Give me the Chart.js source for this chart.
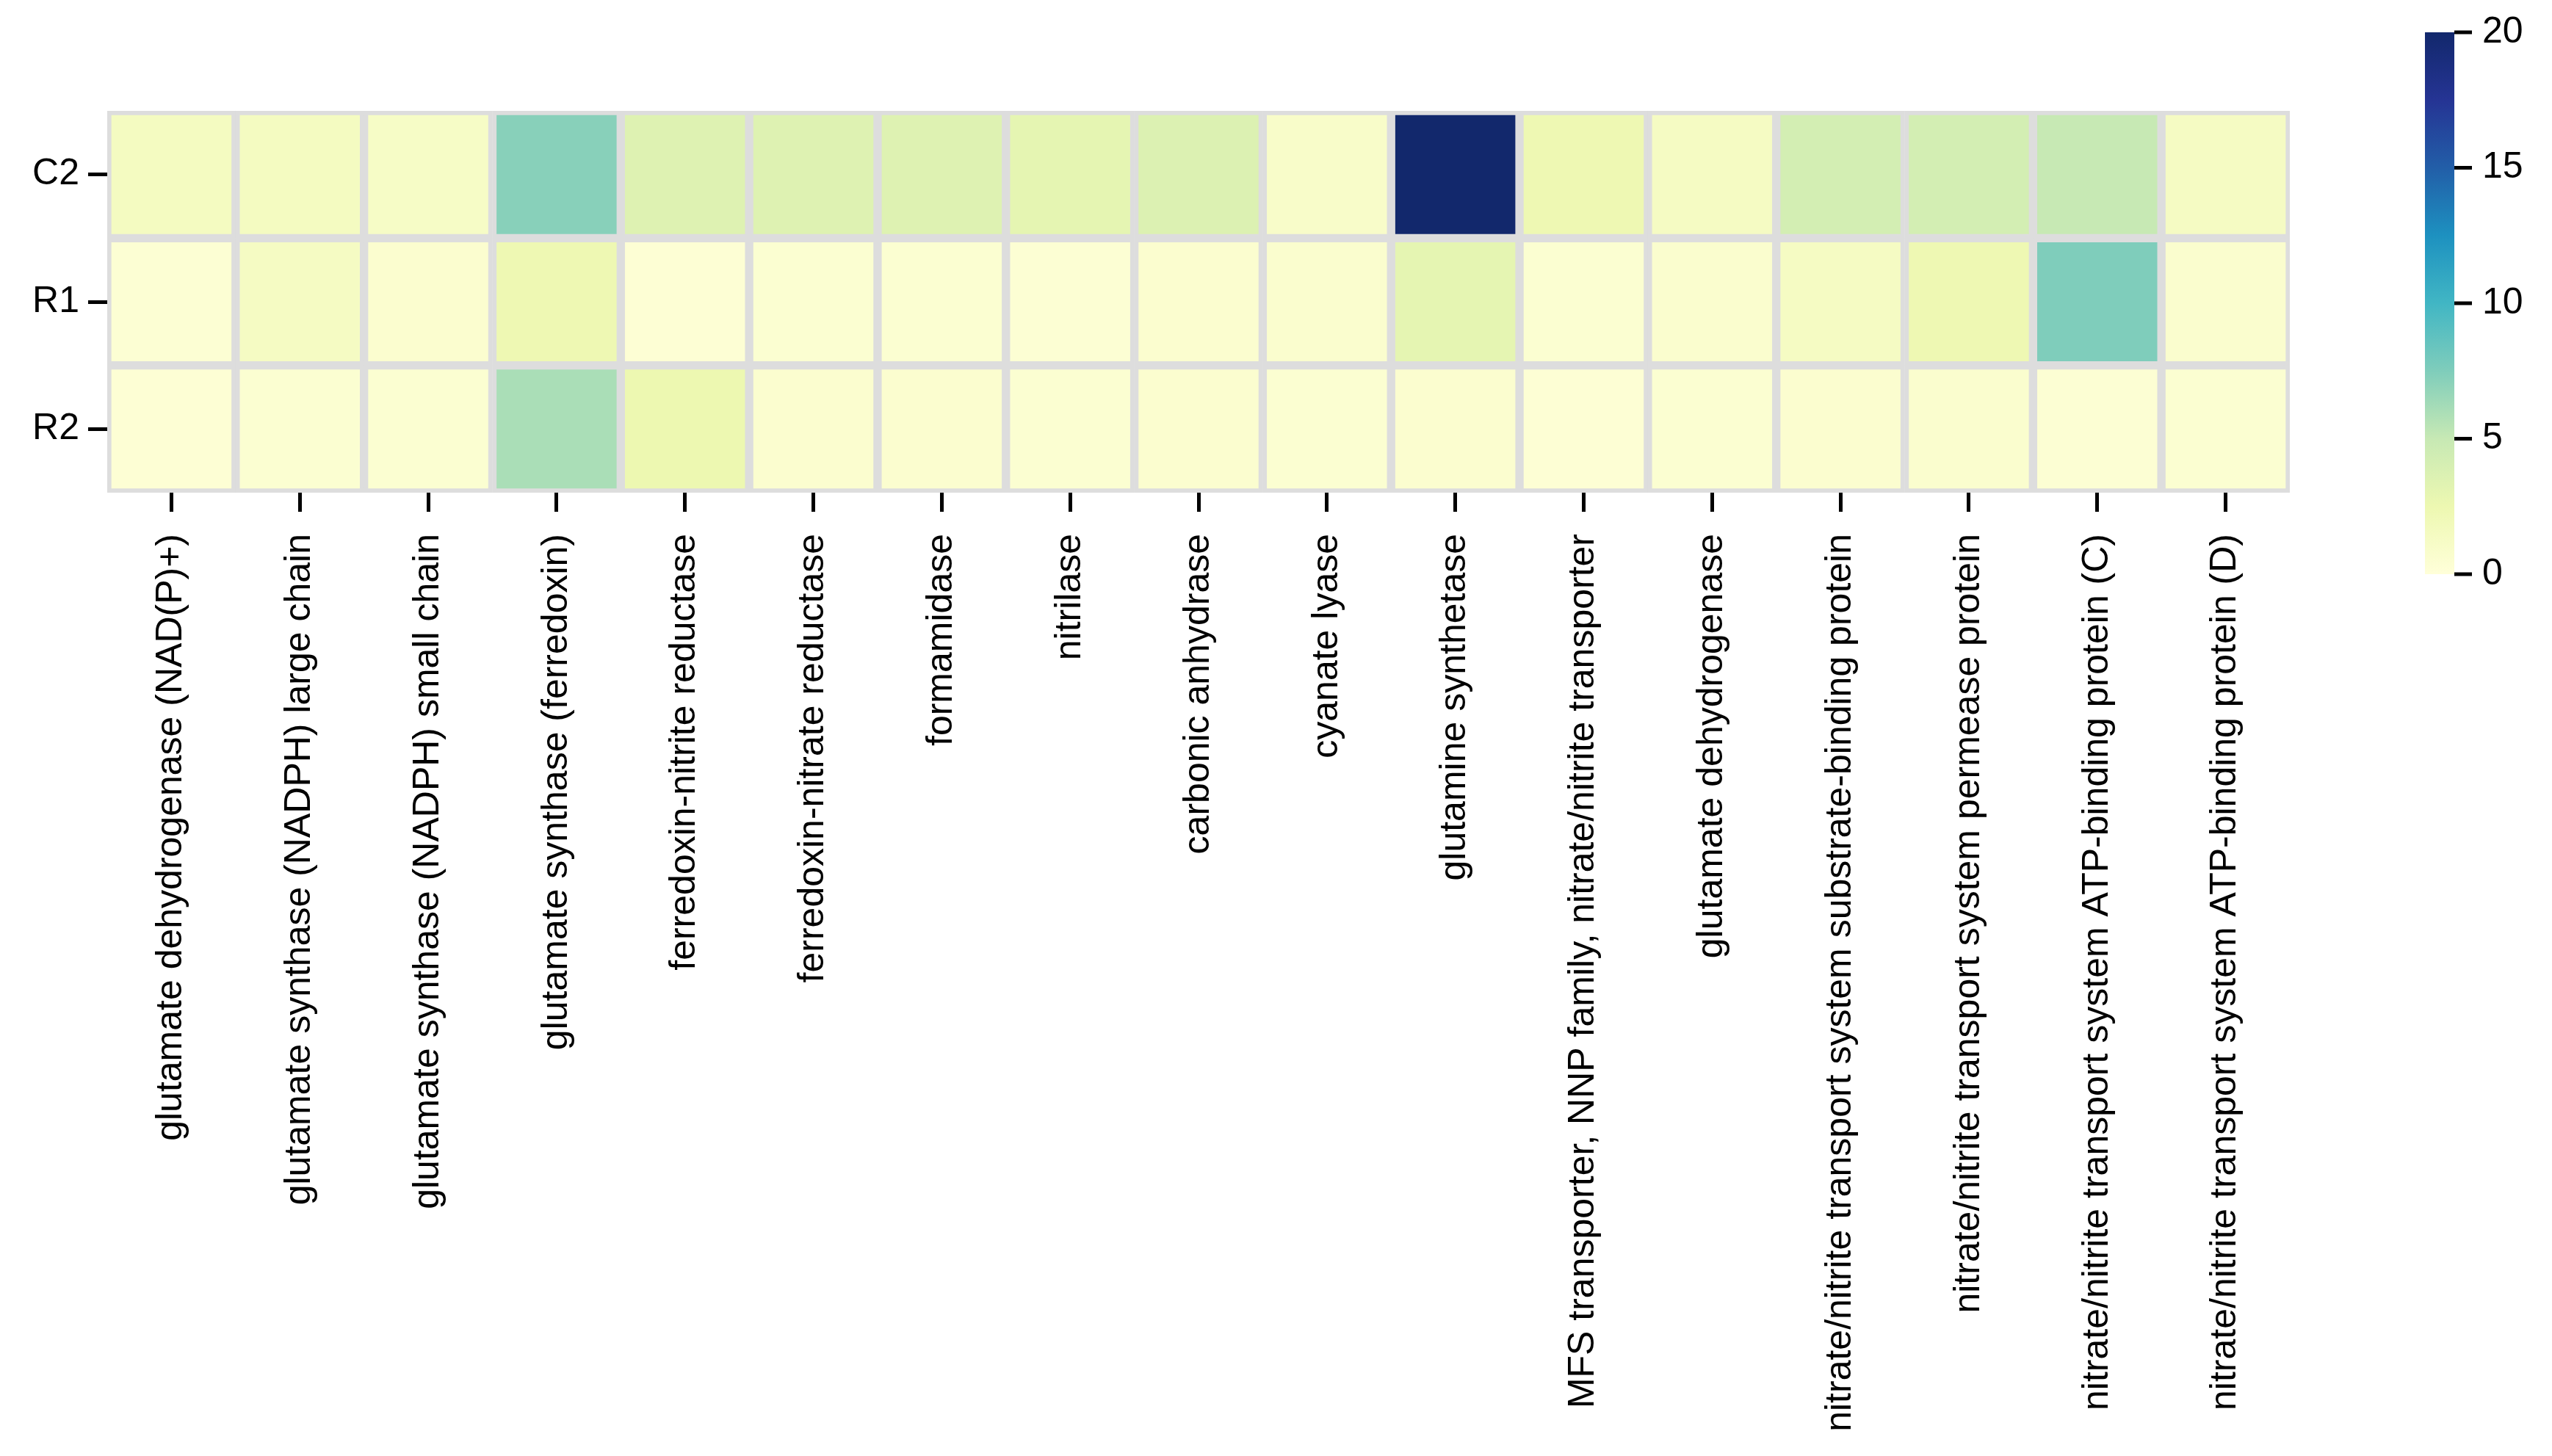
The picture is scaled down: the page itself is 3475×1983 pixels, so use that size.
<!DOCTYPE html>
<html>
<head>
<meta charset="utf-8">
<script src="https://cdn.jsdelivr.net/npm/chart.js@4"></script>
<style>
  html, body { margin: 0; padding: 0; background: #fff; }
  #wrap { width: 3475px; height: 1983px; }
</style>
</head>
<body>
<div id="wrap"><canvas id="heat"></canvas></div>
<script>
// Genes along the x axis
const genes = [
    'glutamate dehydrogenase (NAD(P)+)',
    'glutamate synthase (NADPH) large chain',
    'glutamate synthase (NADPH) small chain',
    'glutamate synthase (ferredoxin)',
    'ferredoxin-nitrite reductase',
    'ferredoxin-nitrate reductase',
    'formamidase',
    'nitrilase',
    'carbonic anhydrase',
    'cyanate lyase',
    'glutamine synthetase',
    'MFS transporter, NNP family, nitrate/nitrite transporter',
    'glutamate dehydrogenase',
    'nitrate/nitrite transport system substrate-binding protein',
    'nitrate/nitrite transport system permease protein',
    'nitrate/nitrite transport system ATP-binding protein (C)',
    'nitrate/nitrite transport system ATP-binding protein (D)'
];
const samples = ['C2', 'R1', 'R2'];

// Values per sample
const valuesC2 = [1.5, 1.5, 1.2, 7.2, 3.5, 3.5, 3.5, 3.0, 3.6, 1.0, 20, 2.4, 1.4, 4.2, 4.2, 5.0, 1.4];
const valuesR1 = [0.4, 1.4, 0.6, 2.4, 0.3, 0.5, 0.5, 0.4, 0.6, 0.7, 3.0, 0.5, 0.7, 1.4, 2.4, 7.5, 0.7];
const valuesR2 = [0.3, 0.5, 0.5, 6.0, 2.5, 0.6, 0.6, 0.5, 0.6, 0.5, 0.6, 0.3, 0.5, 0.6, 0.7, 0.4, 0.5];
const allValues = [valuesC2, valuesR1, valuesR2];

const vmin = 0, vmax = 20;
const cbarTicks = [0, 5, 10, 15, 20];

// YlGnBu
const palette = ['#ffffd9', '#edf8b1', '#c7e9b4', '#7fcdbb', '#41b6c4', '#1d91c0', '#225ea8', '#253494', '#12286c'];

function hexToRgb(h) {
    return [parseInt(h.slice(1, 3), 16), parseInt(h.slice(3, 5), 16), parseInt(h.slice(5, 7), 16)];
}

function colorFor(v) {
    let t = Math.max(0, Math.min(1, (v - vmin) / (vmax - vmin))) * (palette.length - 1);
    const i = Math.min(Math.floor(t), palette.length - 2);
    const f = t - i;
    const a = hexToRgb(palette[i]), b = hexToRgb(palette[i + 1]);
    const c = a.map((x, k) => Math.round(x + (b[k] - x) * f));
    return 'rgb(' + c.join(',') + ')';
}

const FONT = { family: 'Liberation Sans, Arial, sans-serif', size: 50 };

const datasets = allValues.map((vals, r) => ({
    label: samples[r],
    data: vals.map(() => [r, r + 1]),
    backgroundColor: vals.map(colorFor),
    borderColor: '#dddddd',
    borderWidth: 6,
    borderSkipped: false,
    barPercentage: 1,
    categoryPercentage: 1,
    grouped: false
}));

// Colour bar drawn beside the chart
const colorBar = {
    id: 'colorBar',
    afterDraw(chart) {
        const ctx = chart.ctx;
        const x = 3302, w = 40, top = 44, bottom = 782;
        const grad = ctx.createLinearGradient(0, bottom, 0, top);
        palette.forEach((c, i) => grad.addColorStop(i / (palette.length - 1), c));
        ctx.save();
        ctx.fillStyle = grad;
        ctx.fillRect(x, top, w, bottom - top);
        ctx.strokeStyle = '#000';
        ctx.lineWidth = 5;
        ctx.fillStyle = '#000';
        ctx.font = FONT.size + 'px ' + FONT.family;
        ctx.textBaseline = 'middle';
        ctx.textAlign = 'left';
        cbarTicks.forEach(t => {
            const y = bottom - (t - vmin) / (vmax - vmin) * (bottom - top);
            ctx.beginPath();
            ctx.moveTo(x + w, y);
            ctx.lineTo(x + w + 24, y);
            ctx.stroke();
            ctx.fillText(String(t), x + w + 38, y);
        });
        ctx.restore();
    }
};

new Chart(document.getElementById('heat'), {
    type: 'bar',
    data: { labels: genes, datasets: datasets },
    options: {
        responsive: true,
        maintainAspectRatio: false,
        animation: false,
        layout: { padding: { top: 151, right: 357, left: 0, bottom: 0 } },
        plugins: { legend: { display: false }, tooltip: { enabled: false } },
        scales: {
            x: {
                offset: true,
                grid: { offset: false, drawOnChartArea: false, tickLength: 26, tickWidth: 5, tickColor: '#000' },
                border: { display: false },
                ticks: { color: '#000', font: FONT, minRotation: 90, maxRotation: 90, autoSkip: false, padding: 30 },
                afterFit(axis) { axis.height = 1983 - 671; }
            },
            y: {
                type: 'linear',
                reverse: true,
                min: 0,
                max: 3,
                grid: { drawOnChartArea: false, tickLength: 26, tickWidth: 5, tickColor: '#000' },
                border: { display: false },
                afterBuildTicks(axis) { axis.ticks = samples.map((s, i) => ({ value: i + 0.5 })); },
                ticks: {
                    color: '#000', font: FONT, padding: 12,
                    callback: function (value) { return samples[Math.floor(value)]; }
                },
                afterFit(axis) { axis.width = 146; }
            }
        }
    },
    plugins: [colorBar]
});
</script>
</body>
</html>
